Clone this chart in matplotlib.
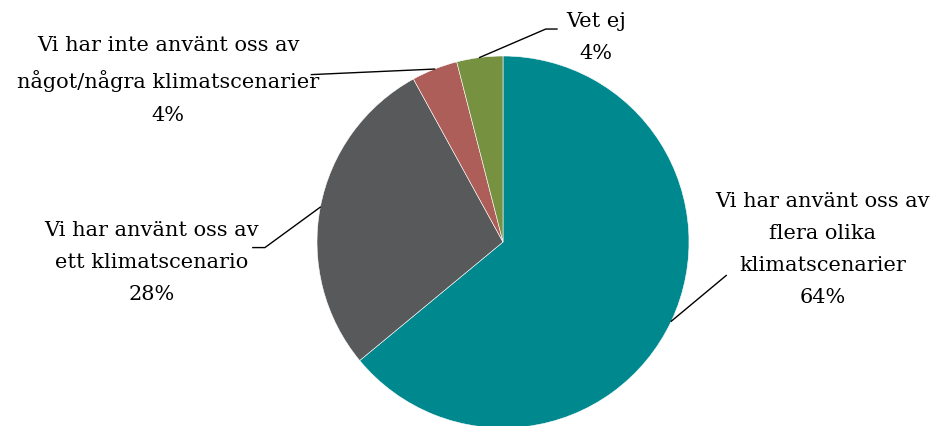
import matplotlib.pyplot as plt
import numpy as np

labels = ["Vi har använt oss av\nflera olika\nklimatscenarier",
          "Vi har använt oss av\nett klimatscenario",
          "Vi har inte använt oss av\nnågot/några klimatscenarier",
          "Vet ej"]
values = [64, 28, 4, 4]
colors = ["#00888F", "#58595B", "#AD5E58", "#76913F"]

# text placement (data coords, pie radius = 1) and leader elbows
text_pos = [(1.72, -0.04), (-1.89, -0.11), (-1.80, 0.87), (0.50, 1.10)]
elbows = [[(1.20, -0.18)],
          [(-1.28, -0.03), (-1.345, -0.03)],
          [(-1.03, 0.90)],
          [(0.23, 1.145), (0.29, 1.145)]]

plt.rcParams["font.family"] = ["DejaVu Serif"]

fig = plt.figure(figsize=(9.34, 4.26), dpi=100)
ax = fig.add_axes([317 / 934, -2 / 426, 372 / 934, 372 / 426])

wedges, _ = ax.pie(values, colors=colors, startangle=90, counterclock=False,
                   wedgeprops=dict(edgecolor="white", linewidth=0.4))
ax.set_xlim(-1, 1)
ax.set_ylim(-1, 1)
ax.set_aspect("equal")
ax.axis("off")

for w, lab, v, tp, el in zip(wedges, labels, values, text_pos, elbows):
    mid = np.deg2rad((w.theta1 + w.theta2) / 2)
    start = (np.cos(mid), np.sin(mid))
    pts = [start] + el
    xs = [p[0] for p in pts]
    ys = [p[1] for p in pts]
    ax.plot(xs, ys, color="black", linewidth=1.0, clip_on=False)
    ax.text(tp[0], tp[1], f"{lab}\n{v}%", ha="center", va="center",
            fontsize=15, linespacing=1.88, clip_on=False)

fig.savefig("out.png", dpi=100)
